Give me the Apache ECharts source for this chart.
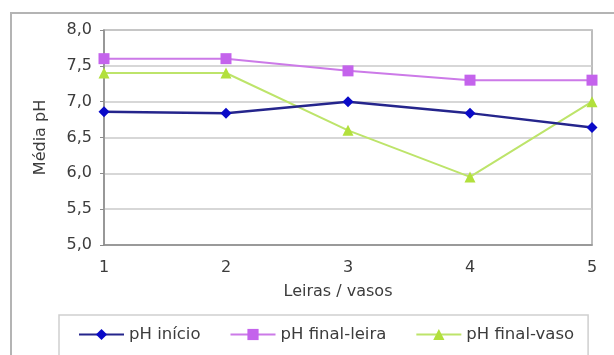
<!DOCTYPE html>
<html>
<head>
<meta charset="utf-8">
<script src="https://cdn.jsdelivr.net/npm/echarts@6/dist/echarts.min.js"></script>
<style>
  html, body { margin: 0; padding: 0; background: #fff; overflow: hidden; }
  #chart { width: 614px; height: 355px; }
</style>
</head>
<body>
<div id="chart"></div>
<script>
// Leiras / vasos (1..5)
const categories = ['1', '2', '3', '4', '5'];

// Mean pH per bed / pot
const phInicio = [6.86, 6.84, 7.0, 6.84, 6.64];
const phFinalLeira = [7.6, 7.6, 7.43, 7.3, 7.3];
const phFinalVaso = [7.4, 7.4, 6.6, 5.95, 7.0];

const seriesNames = ['pH início', 'pH final-leira', 'pH final-vaso'];

// y-axis range and step
const yMin = 5.0, yMax = 8.0, yStep = 0.5;

const FONT = 'DejaVu Sans';
const TEXT = '#3c3c3c';

const chart = echarts.init(document.getElementById('chart'), null, { renderer: 'canvas' });

const option = {
  backgroundColor: '#ffffff',
  animation: false,
  textStyle: { fontFamily: FONT, fontSize: 16, color: TEXT },
  // chart-area frame: top and left edges only
  graphic: [
    {
      type: 'rect',
      shape: { x: 10, y: 12, width: 700, height: 2 },
      style: { fill: '#b4b4b4', stroke: null },
      silent: true
    },
    {
      type: 'rect',
      shape: { x: 10, y: 12, width: 2, height: 400 },
      style: { fill: '#b4b4b4', stroke: null },
      silent: true
    }
  ],
  grid: {
    left: 104, right: 22, top: 30, bottom: 110,
    show: true,
    borderColor: '#a8a8a8',
    borderWidth: 1.5,
    backgroundColor: 'transparent'
  },
  legend: {
    data: seriesNames,
    left: 59,
    top: 315,
    padding: [11, 14, 30, 19],
    itemGap: 29,
    itemWidth: 45,
    itemHeight: 14,
    borderColor: '#cfcfcf',
    borderWidth: 1.5,
    textStyle: { fontFamily: FONT, fontSize: 16.5, color: TEXT }
  },
  xAxis: {
    type: 'category',
    data: categories,
    boundaryGap: false,
    name: 'Leiras / vasos',
    nameLocation: 'middle',
    nameGap: 39,
    nameTextStyle: { fontFamily: FONT, fontSize: 16, color: TEXT, padding: [0, 20, 0, 0] },
    axisLine: { lineStyle: { color: '#8c8c8c', width: 1.5 } },
    axisTick: { show: false },
    axisLabel: { fontFamily: FONT, fontSize: 16, color: TEXT, margin: 15 },
    splitLine: { show: false }
  },
  yAxis: {
    type: 'value',
    min: yMin,
    max: yMax,
    interval: yStep,
    name: 'Média pH',
    nameLocation: 'middle',
    nameGap: 55,
    nameTextStyle: { fontFamily: FONT, fontSize: 16, color: TEXT },
    axisLine: { show: true, lineStyle: { color: '#8c8c8c', width: 1.5 } },
    axisTick: { show: true, length: 4, lineStyle: { color: '#8c8c8c' } },
    axisLabel: {
      fontFamily: FONT, fontSize: 16, color: TEXT, margin: 12,
      formatter: v => v.toFixed(1).replace('.', ',')
    },
    splitLine: { show: true, lineStyle: { color: '#cacaca', width: 1.5 } }
  },
  series: [
    {
      name: seriesNames[0],
      type: 'line',
      data: phInicio,
      symbol: 'diamond',
      symbolSize: 11,
      itemStyle: { color: '#0a0ac8' },
      lineStyle: { color: '#25258c', width: 2.5 },
      z: 3
    },
    {
      name: seriesNames[1],
      type: 'line',
      data: phFinalLeira,
      symbol: 'rect',
      symbolSize: 11,
      itemStyle: { color: '#c463ec' },
      lineStyle: { color: '#cc7ae8', width: 2 },
      z: 2
    },
    {
      name: seriesNames[2],
      type: 'line',
      data: phFinalVaso,
      symbol: 'triangle',
      symbolSize: 11,
      itemStyle: { color: '#b2e03c' },
      lineStyle: { color: '#bde46a', width: 2 },
      z: 2
    }
  ]
};

chart.setOption(option);
</script>
</body>
</html>
